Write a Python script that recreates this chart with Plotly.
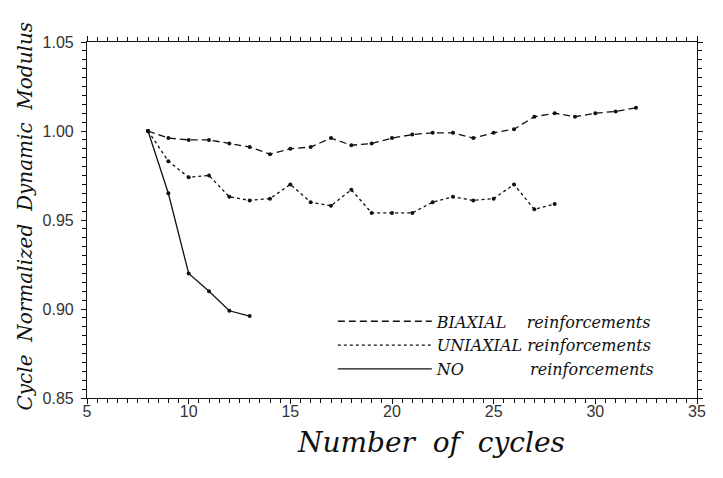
import plotly.graph_objects as go

# ---- data ----
cycles_biaxial = [8, 9, 10, 11, 12, 13, 14, 15, 16, 17, 18, 19, 20, 21, 22, 23, 24, 25, 26, 27, 28, 29, 30, 31, 32]
modulus_biaxial = [1.000, 0.996, 0.995, 0.995, 0.993, 0.991, 0.987, 0.990, 0.991, 0.996, 0.992, 0.993, 0.996,
                   0.998, 0.999, 0.999, 0.996, 0.999, 1.001, 1.008, 1.010, 1.008, 1.010, 1.011, 1.013]

cycles_uniaxial = [8, 9, 10, 11, 12, 13, 14, 15, 16, 17, 18, 19, 20, 21, 22, 23, 24, 25, 26, 27, 28]
modulus_uniaxial = [1.000, 0.983, 0.974, 0.975, 0.963, 0.961, 0.962, 0.970, 0.960, 0.958, 0.967, 0.954, 0.954,
                    0.954, 0.960, 0.963, 0.961, 0.962, 0.970, 0.956, 0.959]

cycles_none = [8, 9, 10, 11, 12, 13]
modulus_none = [1.000, 0.965, 0.920, 0.910, 0.899, 0.896]

x_ticks = [5, 10, 15, 20, 25, 30, 35]
y_ticks = [0.85, 0.90, 0.95, 1.00, 1.05]
y_tick_labels = ["0.85", "0.90", "0.95", "1.00", "1.05"]

NB = "\u00a0"
series = [
    ("BIAXIAL" + NB * 4 + "reinforcements", cycles_biaxial, modulus_biaxial, "7px,4px"),
    ("UNIAXIAL" + NB + "reinforcements", cycles_uniaxial, modulus_uniaxial, "3px,3px"),
    ("NO" + NB * 13 + "reinforcements", cycles_none, modulus_none, "solid"),
]

serif = "DejaVu Serif"
ink = "#111111"

fig = go.Figure()
for name, xs, ys, dash in series:
    fig.add_trace(go.Scatter(x=xs, y=ys, mode="lines", name=name,
                             line=dict(color=ink, width=1.3, dash=dash)))
for name, xs, ys, dash in series:
    fig.add_trace(go.Scatter(x=xs, y=ys, mode="markers", showlegend=False,
                             marker=dict(color=ink, size=4, symbol="circle")))

axis_common = dict(showline=True, linecolor=ink, linewidth=1.2, mirror="ticks",
                   ticks="outside", tickcolor=ink, ticklen=5, tickwidth=1,
                   showgrid=False, zeroline=False,
                   tickfont=dict(family="Liberation Sans", size=16, color="#333333"))

fig.update_xaxes(range=[5, 35], tickvals=x_ticks,
                 minor=dict(dtick=0.5, ticks="outside", ticklen=4, tickcolor=ink, showgrid=False),
                 ticklabelstandoff=-6, **axis_common)
fig.update_yaxes(range=[0.85, 1.05], tickvals=y_ticks, ticktext=y_tick_labels,
                 minor=dict(dtick=0.005, ticks="outside", ticklen=4, tickcolor=ink, showgrid=False),
                 ticklabelstandoff=4, **axis_common)

fig.update_layout(
    width=723, height=478,
    margin=dict(l=79, r=34, t=34, b=88),
    paper_bgcolor="white", plot_bgcolor="white",
    showlegend=True,
    legend=dict(x=0.403, y=0.263, xanchor="left", yanchor="top",
                bgcolor="rgba(0,0,0,0)", borderwidth=0,
                font=dict(family=serif, size=16, color=ink, style="italic"),
                tracegroupgap=0, itemwidth=94),
    annotations=[
        dict(text="Cycle" + NB * 2 + "Normalized" + NB * 2 + "Dynamic" + NB * 2 + "Modulus",
             xref="paper", yref="paper", x=-0.102, y=0.512, textangle=-90,
             showarrow=False, xanchor="center", yanchor="middle",
             font=dict(family=serif, size=20, color=ink, style="italic")),
        dict(text="Number" + NB * 2 + "of" + NB * 2 + "cycles",
             xref="paper", yref="paper", x=0.564, y=-0.124,
             showarrow=False, xanchor="center", yanchor="middle",
             font=dict(family=serif, size=28, color=ink, style="italic")),
    ],
)

fig.write_html("out.html")
